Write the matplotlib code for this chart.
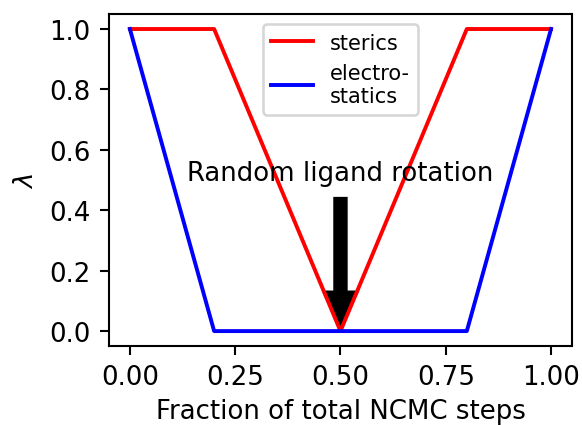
import numpy as np
import matplotlib.pyplot as plt

# lambda schedules over the NCMC protocol
frac = [0.0, 0.2, 0.5, 0.8, 1.0]
sterics = [1.0, 1.0, 0.0, 1.0, 1.0]
frac_elec = [0.0, 0.2, 0.8, 1.0]
electrostatics = [1.0, 0.0, 0.0, 1.0]

fig, ax = plt.subplots(figsize=(3.104, 2.272), dpi=187.5)
ax.plot(frac, sterics, color='red', lw=1.5, label='sterics')
ax.plot(frac_elec, electrostatics, color='blue', lw=1.5, label='electro-\nstatics')

# rotation move happens at the midpoint
ax.arrow(0.5, 0.44, 0, -0.43, width=0.028, head_width=0.08, head_length=0.12,
         length_includes_head=True, color='black')
ax.text(0.5, 0.5, 'Random ligand rotation', ha='center', va='baseline', fontsize=10)

ax.set_xticks([0, 0.25, 0.5, 0.75, 1.0])
ax.set_xlabel('Fraction of total NCMC steps', labelpad=3)
ax.set_ylabel(r'$\lambda$')
ax.legend(loc='upper center', fontsize=8)
plt.subplots_adjust(left=0.187, right=0.983, top=0.965, bottom=0.185)
plt.savefig('out.png')
